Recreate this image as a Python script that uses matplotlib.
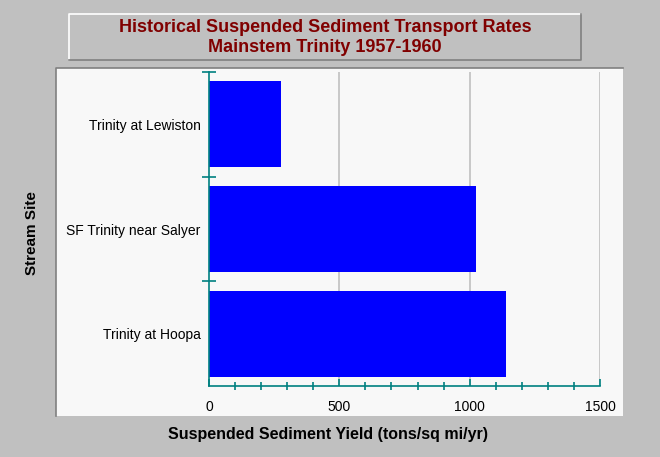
import matplotlib
matplotlib.use("Agg")
import matplotlib.pyplot as plt
from matplotlib.patches import Rectangle
from matplotlib.ticker import MultipleLocator, FixedLocator

plt.rcParams['font.family'] = ['Liberation Sans', 'DejaVu Sans']

sites = ["Trinity at Hoopa", "SF Trinity near Salyer", "Trinity at Lewiston"]
yield_vals = [1140, 1025, 276]
x_ticks = [0, 500, 1000, 1500]
title_lines = ["Historical Suspended Sediment Transport Rates", "Mainstem Trinity 1957-1960"]
xlabel = "Suspended Sediment Yield (tons/sq mi/yr)"
ylabel = "Stream Site"

W, H = 660, 457
fig = plt.figure(figsize=(W / 100, H / 100), dpi=100, facecolor="#c0c0c0")

def fx(px):
    return px / W

def fy(py):
    return 1 - py / H

# plot panel (inset look)
px0, px1, py0, py1 = 56, 623, 68, 416
fig.patches.append(Rectangle((fx(px0), fy(py1)), fx(px1) - fx(px0), fy(py0) - fy(py1),
                             transform=fig.transFigure, facecolor="#f8f8f8",
                             edgecolor="none", zorder=0))
fig.add_artist(plt.Line2D([fx(px0), fx(px0), fx(px1)], [fy(py1), fy(py0), fy(py0)],
                          transform=fig.transFigure, color="#808080", lw=1.2))
# title box (raised look)
bx0, bx1, by0, by1 = 69, 581, 14, 60
fig.add_artist(plt.Line2D([fx(bx0), fx(bx0), fx(bx1)], [fy(by1), fy(by0), fy(by0)],
                          transform=fig.transFigure, color="white", lw=1.2))
fig.add_artist(plt.Line2D([fx(bx0), fx(bx1), fx(bx1)], [fy(by1), fy(by1), fy(by0)],
                          transform=fig.transFigure, color="#808080", lw=1.2))
for line, ty in zip(title_lines, [28, 47]):
    fig.text(fx((bx0 + bx1) / 2), fy(ty), line, ha="center", va="center",
             color="#800000", fontsize=13, fontweight="bold")

ax = fig.add_axes([fx(209), fy(386), fx(600) - fx(209), fy(72) - fy(386)])
ax.set_zorder(2)
ax.set_facecolor("none")
ypos = list(range(len(sites)))
ax.barh(ypos, yield_vals, height=0.82, color="#0000ff", zorder=3)
ax.set_xlim(x_ticks[0], x_ticks[-1])
ax.set_ylim(-0.5, len(sites) - 0.5)

for t in x_ticks[1:]:
    ax.axvline(t, color="#c0c0c0", lw=1.2, zorder=1)

for s in ["top", "right"]:
    ax.spines[s].set_visible(False)
for s in ["left", "bottom"]:
    ax.spines[s].set_color("#008080")
    ax.spines[s].set_linewidth(1.2)
    ax.spines[s].set_zorder(4)

ax.set_xticks(x_ticks)
ax.set_xticklabels([str(t) for t in x_ticks], fontsize=10)
ax.xaxis.set_minor_locator(MultipleLocator(100))
ax.tick_params(axis="x", which="major", direction="in", length=5, width=1.2,
               color="#008080", pad=10)
ax.tick_params(axis="x", which="minor", direction="inout", length=6, width=1.2,
               color="#008080")

ax.set_yticks(ypos)
ax.set_yticklabels(sites, fontsize=10)
ax.yaxis.set_minor_locator(FixedLocator([i + 0.5 for i in ypos]))
ax.tick_params(axis="y", which="major", length=0, pad=6)
ax.tick_params(axis="y", which="minor", direction="inout", length=9.5, width=1.2,
               color="#008080")

fig.text(fx(328), fy(434), xlabel, ha="center", va="center", fontsize=11.5,
         fontweight="bold", color="black")
fig.text(fx(32), fy(233), ylabel, ha="center", va="center", rotation=90,
         fontsize=11, fontweight="bold", color="black")

fig.savefig("out.png", dpi=100, facecolor=fig.get_facecolor())
